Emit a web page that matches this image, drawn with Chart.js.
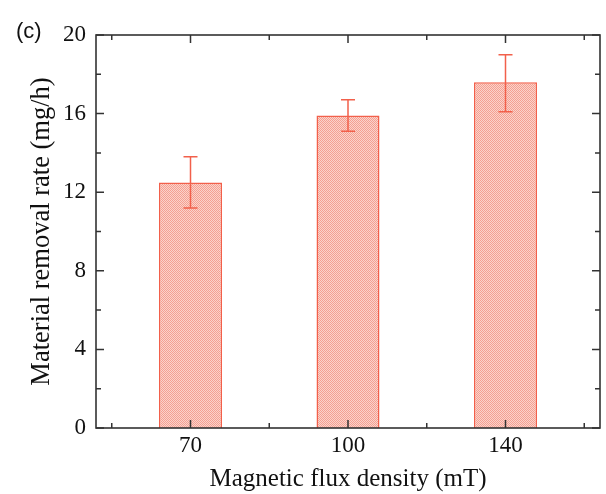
<!DOCTYPE html>
<html>
<head>
<meta charset="utf-8">
<script src="https://cdn.jsdelivr.net/npm/chart.js@4"></script>
<style>
  body { margin: 0; background: #fff; }
  #wrap { width: 606px; height: 494px; }
</style>
</head>
<body>
<div id="wrap"><canvas id="mrr" width="606" height="494"></canvas></div>
<script>
// data
var fluxLabels = ['70', '100', '140'];
var removalRate = [12.5, 15.9, 17.6];
var errLow = [11.2, 15.1, 16.1];
var errHigh = [13.8, 16.7, 19.0];
var yTicks = [0, 4, 8, 12, 16, 20];

var red = '#f2604b';
var serif = "'Liberation Serif', 'Times New Roman', serif";

// dotted fill like the original hatch
function dotPattern(){
  var c = document.createElement('canvas');
  c.width = 2; c.height = 2;
  var g = c.getContext('2d');
  g.fillStyle = '#fbd3cb';
  g.fillRect(0, 0, 2, 2);
  g.fillStyle = '#f4a092';
  g.fillRect(0, 0, 1, 1);
  g.fillRect(1, 1, 1, 1);
  return g.createPattern(c, 'repeat');
}

var points = [];
for(var i = 0; i < removalRate.length; i++){
  points.push({x: i, y: removalRate[i]});
}

// frame, inward ticks, error bars and panel letter
var extras = {
  id: 'extras',
  afterDatasetsDraw: function(chart){
    var ctx = chart.ctx;
    var a = chart.chartArea;
    var xs = chart.scales.x, ys = chart.scales.y;
    ctx.save();

    // error bars
    var meta = chart.getDatasetMeta(0);
    ctx.strokeStyle = red;
    ctx.lineWidth = 1.5;
    for(var i = 0; i < meta.data.length; i++){
      var cx = meta.data[i].x;
      var yl = ys.getPixelForValue(errLow[i]);
      var yh = ys.getPixelForValue(errHigh[i]);
      ctx.beginPath();
      ctx.moveTo(cx, yl); ctx.lineTo(cx, yh);
      ctx.moveTo(cx - 7, yl); ctx.lineTo(cx + 7, yl);
      ctx.moveTo(cx - 7, yh); ctx.lineTo(cx + 7, yh);
      ctx.stroke();
    }

    // ticks
    ctx.strokeStyle = '#333';
    ctx.lineWidth = 1.5;
    ctx.beginPath();
    for(var v = 0; v <= 20; v += 2){
      var py = ys.getPixelForValue(v);
      var len = (v % 4 === 0) ? 8 : 5;
      ctx.moveTo(a.left, py); ctx.lineTo(a.left + len, py);
      ctx.moveTo(a.right, py); ctx.lineTo(a.right - len, py);
    }
    for(var k = -1; k <= 5; k++){
      var px = xs.getPixelForValue(k / 2);
      var l2 = (k % 2 === 0) ? 8 : 5;
      ctx.moveTo(px, a.bottom); ctx.lineTo(px, a.bottom - l2);
      ctx.moveTo(px, a.top); ctx.lineTo(px, a.top + l2);
    }
    ctx.stroke();

    // frame
    ctx.lineWidth = 1.6;
    ctx.strokeRect(a.left, a.top, a.right - a.left, a.bottom - a.top);

    // panel letter
    ctx.fillStyle = '#111';
    ctx.font = "22px 'Liberation Sans', Arial, sans-serif";
    ctx.textBaseline = 'middle';
    ctx.textAlign = 'left';
    ctx.fillText('(c)', 16, 32);
    ctx.restore();
  }
};

var opt = {
  type: 'bar',
  data: {
    datasets: [{
      label: 'Material removal rate',
      data: points,
      backgroundColor: dotPattern(),
      borderColor: red,
      borderWidth: 1.5,
      barPercentage: 0.4,
      categoryPercentage: 1
    }]
  },
  options: {
    responsive: false,
    animation: false,
    layout: { padding: { top: 35, right: 6, left: 0, bottom: 0 } },
    plugins: { legend: { display: false }, tooltip: { enabled: false } },
    scales: {
      x: {
        type: 'linear',
        offset: false,
        min: -0.6,
        max: 2.6,
        grid: { display: false, drawTicks: false },
        border: { display: false },
        afterBuildTicks: function(s){
          s.ticks = fluxLabels.map(function(l, i){ return {value: i}; });
        },
        afterFit: function(s){ s.height = 66; },
        ticks: {
          padding: 4,
          color: '#111',
          font: { family: serif, size: 23 },
          callback: function(v){ return fluxLabels[v]; }
        },
        title: {
          display: true,
          text: 'Magnetic flux density (mT)',
          color: '#111',
          font: { family: serif, size: 25 },
          padding: { top: 0, bottom: 0 }
        }
      },
      y: {
        min: 0,
        max: 20,
        grid: { display: false, drawTicks: false },
        border: { display: false },
        afterBuildTicks: function(s){
          s.ticks = yTicks.map(function(t){ return {value: t}; });
        },
        afterFit: function(s){ s.width = 96; },
        ticks: {
          padding: 10,
          color: '#111',
          font: { family: serif, size: 23 }
        },
        title: {
          display: true,
          text: 'Material removal rate (mg/h)',
          color: '#111',
          font: { family: serif, size: 26.5 },
          padding: { top: 26, bottom: 0 }
        }
      }
    }
  },
  plugins: [extras]
};

var ctx = document.getElementById('mrr');
var Mrr = new Chart(ctx, opt);
</script>
</body>
</html>
